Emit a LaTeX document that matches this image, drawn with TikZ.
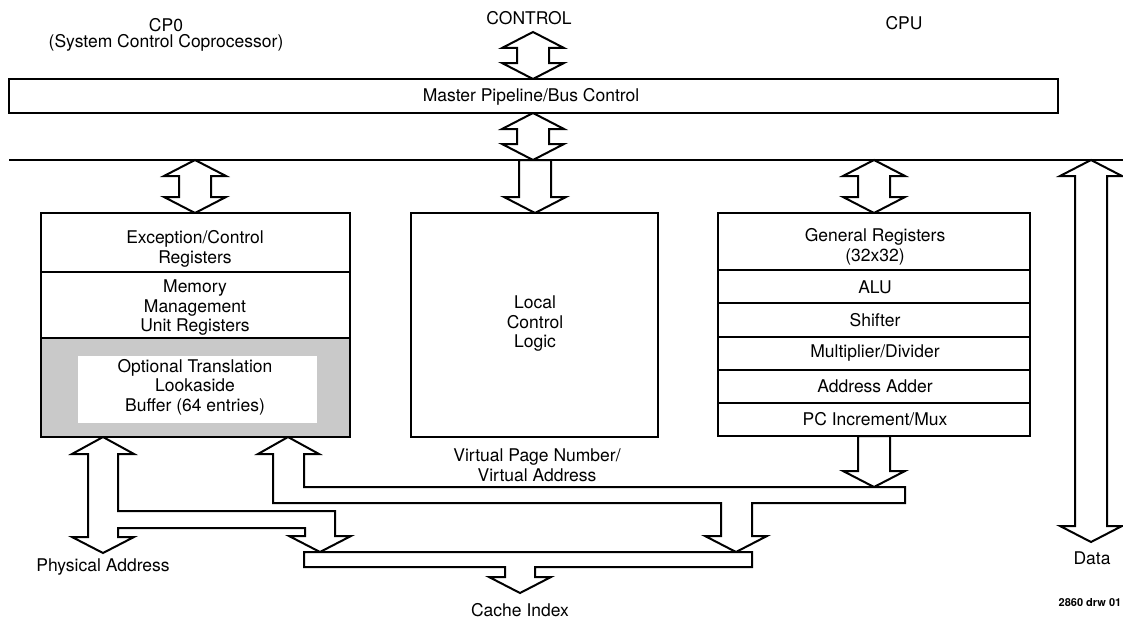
\documentclass[tikz,border=0pt]{standalone}
\usepackage{fontspec}
\setmainfont{TeX Gyre Heros}
\newcommand\dbarrow[3]{% centre x, top tip y, bottom tip y
  \draw[hollow] (#1,#2) -- ({#1+31},{#2+16}) -- ({#1+16},{#2+16}) -- ({#1+16},{#3-16})
    -- ({#1+31},{#3-16}) -- (#1,#3) -- ({#1-31},{#3-16}) -- ({#1-16},{#3-16})
    -- ({#1-16},{#2+16}) -- ({#1-31},{#2+16}) -- cycle;}
\newcommand\sdarrow[3]{% centre x, shaft top y, tip y
  \draw[hollow] ({#1-16},#2) -- ({#1+16},#2) -- ({#1+16},{#3-16}) -- ({#1+31},{#3-16})
    -- (#1,#3) -- ({#1-31},{#3-16}) -- ({#1-16},{#3-16}) -- cycle;}
\begin{document}
\begin{tikzpicture}[x=1pt,y=-1pt,line width=2pt,line join=miter,
  txt/.style={inner sep=0pt,font=\fontsize{17.5}{19.5}\selectfont,align=center},
  box/.style={draw,fill=white,inner sep=0pt,outer sep=0pt,anchor=north west},
  hollow/.style={draw,fill=white}]
\useasboundingbox (0,0) rectangle (1123,618);

% ---- hollow arrows ----
\dbarrow{533}{32}{79}
\dbarrow{533}{113}{160}
\dbarrow{195}{160}{213}
\sdarrow{535}{160}{213}
\dbarrow{874}{160}{213}
\dbarrow{1091}{160}{542}
\sdarrow{874}{436}{487}

% physical address arrow with branch to cache bus
\draw[hollow] (103,437) -- (134,454) -- (118,454) -- (118,511) -- (335,511) -- (335,536)
  -- (351,536) -- (320,552) -- (289,536) -- (305,536) -- (305,528) -- (118,528)
  -- (118,537) -- (134,537) -- (103,553) -- (72,537) -- (88,537) -- (88,454)
  -- (72,454) -- cycle;
% TLB <- virtual page number bus -> cache bus
\draw[hollow] (288,437) -- (319,454) -- (304,454) -- (304,487) -- (905,487) -- (905,503)
  -- (752,503) -- (752,536) -- (767,536) -- (736,552) -- (705,536) -- (721,536)
  -- (721,503) -- (273,503) -- (273,454) -- (258,454) -- cycle;
% cache bus and cache index arrow
\draw[hollow] (304,552) -- (752,552) -- (752,567) -- (535,567) -- (535,577) -- (551,577)
  -- (520,593) -- (489,577) -- (505,577) -- (505,567) -- (304,567) -- cycle;

% ---- bus bar and line ----
\node[box,minimum width=1049pt,minimum height=34pt] (bar) at (9,79) {};
\coordinate (lineL) at (9,160);
\coordinate (lineR) at (1123,160);
\draw (lineL) -- (lineR);

% ---- CP0 block ----
\node[box,minimum width=309pt,minimum height=59pt] (exc) at (41,213) {};
\node[box,minimum width=309pt,minimum height=66pt] (mmu) at (41,272) {};
\node[box,fill=black!21,minimum width=309pt,minimum height=99pt] (tlb) at (41,338) {};
\node[fill=white,inner sep=0pt,anchor=north west,minimum width=239pt,minimum height=67pt] (tlbin) at (77,355) {};

% ---- local control ----
\node[box,minimum width=247pt,minimum height=224pt] (lcl) at (411,213) {};

% ---- CPU block ----
\node[box,minimum width=312pt,minimum height=57pt] (gr) at (718,213) {};
\node[box,minimum width=312pt,minimum height=33pt] (alu) at (718,270) {};
\node[box,minimum width=312pt,minimum height=34pt] (sh) at (718,303) {};
\node[box,minimum width=312pt,minimum height=33pt] (md) at (718,337) {};
\node[box,minimum width=312pt,minimum height=33pt] (aa) at (718,370) {};
\node[box,minimum width=312pt,minimum height=33pt] (pc) at (718,403) {};

% ---- texts ----
\node[txt] (tcp0) at (166,25) {CP0};
\node[txt] (tscc) at (166,43) {(System Control Coprocessor)};
\node[txt] (tctl) at (529,18) {CONTROL};
\node[txt] (tcpu) at (904,23) {CPU};
\node[txt] (tbar) at (531,97) {Master Pipeline/Bus Control};
\node[txt] (texc) at (195,249) {Exception/Control\\Registers};
\node[txt] (tmmu) at (195,308) {Memory\\Management\\Unit Registers};
\node[txt] (ttlb) at (195,387) {Optional Translation\\Lookaside\\Buffer (64 entries)};
\node[txt] (tlcl) at (535,324) {Local\\Control\\Logic};
\node[txt] (tgr) at (875,247) {General Registers\\(32x32)};
\node[txt] (talu) at (875,287) {ALU};
\node[txt] (tsh) at (875,320) {Shifter};
\node[txt] (tmd) at (875,353.5) {Multiplier/Divider};
\node[txt] (taa) at (875,386.5) {Address Adder};
\node[txt] (tpc) at (875,419.5) {PC Increment/Mux};
\node[txt] (tvpn) at (537,465) {Virtual Page Number/\\Virtual Address};
\node[txt] (tpa) at (103,567) {Physical Address};
\node[txt] (tci) at (520,610) {Cache Index};
\node[txt] (tdata) at (1092,558) {Data};
\node[inner sep=0pt,font=\fontsize{11}{12}\selectfont\bfseries] (tdrw) at (1090,603) {2860 drw 01};
\end{tikzpicture}
\end{document}
